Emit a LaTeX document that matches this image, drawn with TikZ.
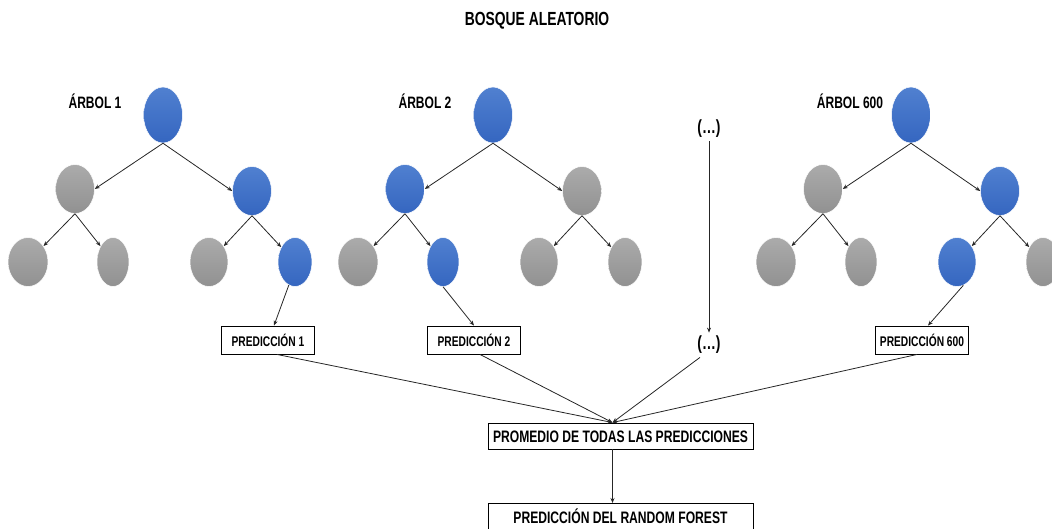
\documentclass[tikz,border=0pt]{standalone}
\usepackage{fontspec}
\setmainfont{Liberation Sans}[FakeStretch=0.73]
\usetikzlibrary{shapes.geometric,arrows.meta}
\definecolor{nbT}{HTML}{5080D0}
\definecolor{nbB}{HTML}{3566C0}
\definecolor{ngT}{HTML}{ABABAB}
\definecolor{ngB}{HTML}{919191}
\newcommand\fs[1]{\fontsize{#1}{#1}\selectfont\bfseries}
\begin{document}
\begin{tikzpicture}[x=1pt,y=-1pt,
  circ/.style={ellipse, inner sep=0pt, draw=white, line width=0.5pt, minimum height=49pt},
  nb/.style={circ, top color=nbT, bottom color=nbB},
  ng/.style={circ, top color=ngT, bottom color=ngB},
  arr/.style={draw=black!85, line width=0.8pt, -{Stealth[length=5pt,width=4pt]}},
  predbox/.style={draw, line width=0.9pt, minimum width=93pt, minimum height=28pt, inner sep=0pt, font=\fs{14}},
  bigbox/.style={draw, line width=0.9pt, minimum width=265pt, inner xsep=0pt, font=\fs{16.6}, text height=12pt, text depth=0pt},
  lbl/.style={anchor=base, font=\fs{16.5}}]
\useasboundingbox (0,0) rectangle (1052,529);

\node[anchor=base, font=\fs{19}] (title) at (537,26) {BOSQUE ALEATORIO};

% three trees: root, two children, four leaves
\foreach \t/\dx/\ca/\cb/\la/\lb/\lc/\ld in
  {1/0/ng/nb/ng/ng/ng/nb, 2/330/nb/ng/ng/nb/ng/ng, 3/748/ng/nb/ng/ng/nb/ng}{
  \begin{scope}[xshift=\dx]
    \node[nb, minimum width=39pt, minimum height=56pt] (r\t) at (163,115) {};
    \node[\ca, minimum width=39pt] (c\t a) at (75,189) {};
    \node[\cb, minimum width=39pt] (c\t b) at (252,191) {};
    \node[\la, minimum width=40pt] (l\t a) at (28,262) {};
    \node[\lb, minimum width=32pt] (l\t b) at (113,262) {};
    \node[\lc, minimum width=38pt] (l\t c) at (209,262) {};
    \node[\ld, minimum width=34pt] (l\t d) at (295,262) {};
    \draw[arr] (r\t.south) -- (c\t a.east);
    \draw[arr] (r\t.south) -- (c\t b.west);
    \draw[arr] (c\t a.south) -- (l\t a);
    \draw[arr] (c\t a.south) -- (l\t b);
    \draw[arr] (c\t b.south) -- (l\t c);
    \draw[arr] (c\t b.south) -- (l\t d);
  \end{scope}
}

\node[lbl] (a1) at (95,109) {ÁRBOL 1};
\node[lbl] (a2) at (425,109) {ÁRBOL 2};
\node[lbl] (a3) at (850,109) {ÁRBOL 600};

\node[font=\fs{19}] (dots1) at (709,129) {(…)};
\node[font=\fs{19}] (dots2) at (709,345) {(…)};

\node[predbox] (p1) at (268,340) {PREDICCIÓN 1};
\node[predbox] (p2) at (474,340) {PREDICCIÓN 2};
\node[predbox] (p3) at (922,340) {PREDICCIÓN 600};

\draw[arr] (l1d.-105) -- ([xshift=6pt]p1.north);
\draw[arr] (l2b.south) -- (p2.north);
\draw[arr] (l3c.-75) -- ([xshift=6pt]p3.north);
\draw[arr] (dots1.south) -- (dots2.north);

\node[bigbox, minimum height=26pt] (prom) at (620.5,436) {PROMEDIO DE TODAS LAS PREDICCIONES};
\node[bigbox, anchor=north, inner ysep=8pt] (final) at (620.5,503) {PREDICCIÓN DEL RANDOM FOREST};
\coordinate (m) at ([xshift=-8pt]prom.north);

\draw[arr] ([xshift=9pt]p1.south) -- (m);
\draw[arr] ([xshift=6pt]p2.south) -- (m);
\draw[arr] ([xshift=-9pt]dots2.south) -- (m);
\draw[arr] ([xshift=-5pt]p3.south) -- (m);
\draw[arr] (prom.south -| m) -- (final.north -| m);
\end{tikzpicture}
\end{document}
